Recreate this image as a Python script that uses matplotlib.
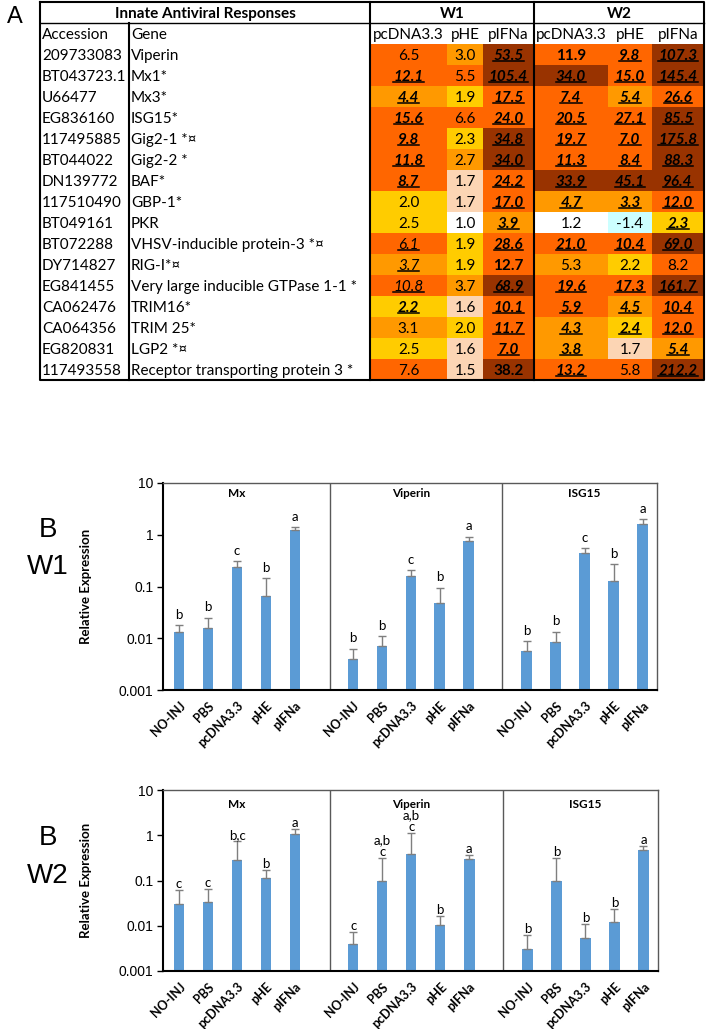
import numpy as np
import matplotlib
matplotlib.use("Agg")
import matplotlib.pyplot as plt
from matplotlib.colors import ListedColormap, BoundaryNorm
from matplotlib.lines import Line2D

# ---------------- Table data (panel A) ----------------
accession = ["209733083", "BT043723.1", "U66477", "EG836160", "117495885", "BT044022",
             "DN139772", "117510490", "BT049161", "BT072288", "DY714827", "EG841455",
             "CA062476", "CA064356", "EG820831", "117493558"]
genes = ["Viperin", "Mx1*", "Mx3*", "ISG15*", "Gig2-1 *\u00a4", "Gig2-2 *", "BAF*", "GBP-1*",
         "PKR", "VHSV-inducible protein-3 *\u00a4", "RIG-I*\u00a4",
         "Very large inducible GTPase 1-1 *", "TRIM16*", "TRIM 25*", "LGP2 *\u00a4",
         "Receptor transporting protein 3 *"]
col_headers = ["pcDNA3.3", "pHE", "pIFNa", "pcDNA3.3", "pHE", "pIFNa"]
group_headers = ["W1", "W2"]

w1_pcdna = [6.5, 12.1, 4.4, 15.6, 9.8, 11.8, 8.7, 2.0, 2.5, 6.1, 3.7, 10.8, 2.2, 3.1, 2.5, 7.6]
w1_phe = [3.0, 5.5, 1.9, 6.6, 2.3, 2.7, 1.7, 1.7, 1.0, 1.9, 1.9, 3.7, 1.6, 2.0, 1.6, 1.5]
w1_pifna = [53.5, 105.4, 17.5, 24.0, 34.8, 34.0, 24.2, 17.0, 3.9, 28.6, 12.7, 68.9, 10.1, 11.7, 7.0, 38.2]
w2_pcdna = [11.9, 34.0, 7.4, 20.5, 19.7, 11.3, 33.9, 4.7, 1.2, 21.0, 5.3, 19.6, 5.9, 4.3, 3.8, 13.2]
w2_phe = [9.8, 15.0, 5.4, 27.1, 7.0, 8.4, 45.1, 3.3, -1.4, 10.4, 2.2, 17.3, 4.5, 2.4, 1.7, 5.8]
w2_pifna = [107.3, 145.4, 26.6, 85.5, 175.8, 88.3, 96.4, 12.0, 2.3, 69.0, 8.2, 161.7, 10.4, 12.0, 5.4, 212.2]

# text style per cell: n normal, b bold, iu italic+underline, biu bold+italic+underline
w1_pcdna_style = ['n', 'biu', 'biu', 'biu', 'biu', 'biu', 'biu', 'n', 'n', 'iu', 'iu', 'iu', 'biu', 'n', 'n', 'n']
w1_phe_style = ['n'] * 16
w1_pifna_style = ['biu'] * 10 + ['b', 'biu', 'biu', 'biu', 'biu', 'b']
w2_pcdna_style = ['b', 'biu', 'biu', 'biu', 'biu', 'biu', 'biu', 'biu', 'n', 'biu', 'n', 'biu', 'biu', 'biu', 'biu', 'biu']
w2_phe_style = ['biu', 'biu', 'biu', 'biu', 'biu', 'biu', 'biu', 'biu', 'n', 'biu', 'n', 'biu', 'biu', 'biu', 'n', 'n']
w2_pifna_style = ['biu'] * 10 + ['n'] + ['biu'] * 5

heat_bounds = [-100, 0, 1.4, 1.8, 2.6, 5.45, 30, 1000]
heat_colors = ['#CCFFFF', '#FFFFFF', '#FCD5B4', '#FFCC00', '#FF9900', '#FF6600', '#993300']

# ---------------- Bar data (panel B) ----------------
treatments = ["NO-INJ", "PBS", "pcDNA3.3", "pHE", "pIFNa"]
bar_genes = ["Mx", "Viperin", "ISG15"]

w1_means = {"Mx": [0.013, 0.016, 0.24, 0.065, 1.25],
            "Viperin": [0.0039, 0.0072, 0.16, 0.047, 0.75],
            "ISG15": [0.0057, 0.0086, 0.45, 0.13, 1.6]}
w1_errs = {"Mx": [0.005, 0.009, 0.07, 0.08, 0.15],
           "Viperin": [0.0024, 0.0038, 0.05, 0.048, 0.17],
           "ISG15": [0.0032, 0.0049, 0.10, 0.14, 0.40]}
w1_letters = {"Mx": ["b", "b", "c", "b", "a"],
              "Viperin": ["b", "b", "c", "b", "a"],
              "ISG15": ["b", "b", "c", "b", "a"]}

w2_means = {"Mx": [0.030, 0.033, 0.29, 0.116, 1.06],
            "Viperin": [0.0039, 0.10, 0.38, 0.0103, 0.295],
            "ISG15": [0.0031, 0.10, 0.0053, 0.0124, 0.47]}
w2_errs = {"Mx": [0.031, 0.032, 0.46, 0.059, 0.30],
           "Viperin": [0.0032, 0.216, 0.72, 0.0062, 0.065],
           "ISG15": [0.0031, 0.207, 0.0055, 0.0111, 0.10]}
w2_letters = {"Mx": ["c", "c", "b,c", "b", "a"],
              "Viperin": ["c", "a,b\nc", "a,b\nc", "b", "a"],
              "ISG15": ["b", "b", "b", "b", "a"]}

ytick_vals = [0.001, 0.01, 0.1, 1, 10]
ytick_labels = ["0.001", "0.01", "0.1", "1", "10"]

# ---------------- Figure ----------------
W, H = 706, 1029
fig = plt.figure(figsize=(W / 100, H / 100), dpi=100)
TF = ['Lato', 'DejaVu Sans']
AF = ['Liberation Sans', 'DejaVu Sans']

tab = fig.add_axes([0, 0, 1, 1])
tab.set_xlim(0, W)
tab.set_ylim(H, 0)
tab.axis('off')

# table layout (pixels)
t_left, t_right, t_top, t_bot = 40, 704, 2, 380
hdr_split, data_top, row_h = 23, 44, 21
acc_x, gene_x, gene_end = 40, 129, 370
col_edges = np.array([370, 447, 483, 534, 608, 652, 704])
row_edges = data_top + row_h * np.arange(len(accession) + 1)

heat = np.array([w1_pcdna, w1_phe, w1_pifna, w2_pcdna, w2_phe, w2_pifna]).T
styles = np.array([w1_pcdna_style, w1_phe_style, w1_pifna_style,
                   w2_pcdna_style, w2_phe_style, w2_pifna_style]).T
cmap = ListedColormap(heat_colors)
norm = BoundaryNorm(heat_bounds, cmap.N)
tab.pcolormesh(col_edges, row_edges, heat, cmap=cmap, norm=norm, zorder=1)

fs_t = 11
row_c = (row_edges[:-1] + row_edges[1:]) / 2
col_c = (col_edges[:-1] + col_edges[1:]) / 2

underline_texts = []
for i in range(heat.shape[0]):
    tab.text(acc_x + 2, row_c[i], accession[i], ha='left', va='center_baseline',
             fontsize=fs_t, family=TF)
    tab.text(gene_x + 2, row_c[i], genes[i], ha='left', va='center_baseline',
             fontsize=fs_t, family=TF)
    for j in range(heat.shape[1]):
        st = styles[i, j]
        t = tab.text(col_c[j], row_c[i], f"{heat[i, j]:.1f}", ha='center', va='center_baseline',
                     fontsize=fs_t, family=TF,
                     fontweight='bold' if 'b' in st else 'normal',
                     fontstyle='italic' if 'i' in st else 'normal', zorder=3)
        if 'u' in st:
            underline_texts.append(t)

# headers
hdr1_y = (t_top + hdr_split) / 2
hdr2_y = (hdr_split + data_top) / 2
tab.text((t_left + gene_end) / 2, hdr1_y, "Innate Antiviral Responses", ha='center',
         va='center_baseline', fontsize=fs_t, fontweight='bold', family=TF)
tab.text((col_edges[0] + col_edges[3]) / 2, hdr1_y, group_headers[0], ha='center',
         va='center_baseline', fontsize=fs_t, fontweight='bold', family=TF)
tab.text((col_edges[3] + col_edges[6]) / 2, hdr1_y, group_headers[1], ha='center',
         va='center_baseline', fontsize=fs_t, fontweight='bold', family=TF)
tab.text(acc_x + 2, hdr2_y, "Accession", ha='left', va='center_baseline', fontsize=fs_t, family=TF)
tab.text(gene_x + 2, hdr2_y, "Gene", ha='left', va='center_baseline', fontsize=fs_t, family=TF)
for j, h in enumerate(col_headers):
    tab.text(col_c[j], hdr2_y, h, ha='center', va='center_baseline', fontsize=fs_t, family=TF)

# table lines
lk = dict(color='black', zorder=4, solid_capstyle='projecting')
tab.plot([t_left, t_right, t_right, t_left, t_left], [t_top, t_top, t_bot, t_bot, t_top], lw=1.5, **lk)
tab.plot([t_left, t_right], [hdr_split, hdr_split], lw=1.0, **lk)
tab.plot([gene_x, gene_x], [hdr_split, t_bot], lw=1.5, **lk)
tab.plot([gene_end, gene_end], [t_top, t_bot], lw=1.5, **lk)
tab.plot([col_edges[3], col_edges[3]], [t_top, t_bot], lw=1.5, **lk)

fig.text(15 / W, 1 - 17 / H, "A", fontsize=17, family=AF, ha='center', va='center')


# ---------------- Bar panels ----------------
def bar_panel(rect, means, errs, letters, let_off, title_y):
    ax = fig.add_axes(rect)
    ax.set_yscale('log')
    xs_all = []
    for g, gene in enumerate(bar_genes):
        x = np.arange(len(treatments)) + g * (len(treatments) + 1)
        xs_all.extend(x)
        m = np.array(means[gene])
        e = np.array(errs[gene])
        ax.bar(x, m, width=0.36, color='#5B9BD5', zorder=2)
        ax.errorbar(x, m, yerr=[np.zeros_like(e), e], fmt='none', ecolor='#7F7F7F',
                    elinewidth=1.0, capsize=3, capthick=1.0, zorder=3)
        for xi, mi, ei, li in zip(x, m, e, letters[gene]):
            ax.annotate(li, (xi, mi + ei), xytext=(0, let_off), textcoords='offset points',
                        ha='center', va='bottom', fontsize=9.5, family=TF, linespacing=1.0)
        ax.text(x[2], title_y, gene, transform=ax.get_xaxis_transform(), ha='center',
                va='center', fontsize=8.5, fontweight='bold', family=TF)
    ax.axvline(5.2, color='#595959', lw=1.0)
    ax.axvline(11.15, color='#595959', lw=1.0)
    ax.set_ylim(0.001, 10)
    ax.set_xlim(-0.55, 16.5)
    ax.set_yticks(ytick_vals)
    ax.set_yticklabels(ytick_labels, fontsize=10, family=AF)
    ax.yaxis.set_minor_locator(matplotlib.ticker.NullLocator())
    ax.set_xticks(xs_all)
    ax.set_xticklabels(treatments * len(bar_genes), rotation=45, ha='right',
                       rotation_mode='anchor', fontsize=9, fontweight='bold', family=TF)
    ax.tick_params(axis='x', length=0, pad=7)
    ax.tick_params(axis='y', length=4, width=1, direction='out', pad=3)
    for s in ['left', 'bottom']:
        ax.spines[s].set_color('black')
        ax.spines[s].set_linewidth(1.5)
    for s in ['top', 'right']:
        ax.spines[s].set_color('#595959')
        ax.spines[s].set_linewidth(1.0)
    ax.set_ylabel("Relative Expression", fontsize=9.5, fontweight='bold', family=TF)
    ax.yaxis.set_label_coords(-0.144, 0.5)
    return ax


bar_panel([163 / W, 1 - 690 / H, 494 / W, 207 / H], w1_means, w1_errs, w1_letters, 3, 0.95)
bar_panel([163 / W, 1 - 971 / H, 495 / W, 181 / H], w2_means, w2_errs, w2_letters, 0, 0.92)

fig.text(48 / W, 1 - 530 / H, "B", fontsize=20, family=AF, ha='center', va='center')
fig.text(48 / W, 1 - 567 / H, "W1", fontsize=20, family=AF, ha='center', va='center')
fig.text(48 / W, 1 - 838 / H, "B", fontsize=20, family=AF, ha='center', va='center')
fig.text(48 / W, 1 - 876 / H, "W2", fontsize=20, family=AF, ha='center', va='center')

# underlines for table values
fig.canvas.draw()
inv = fig.transFigure.inverted()
for t in underline_texts:
    bb = t.get_window_extent()
    y = bb.y0 + 2.0
    (x0, yf), = inv.transform([(bb.x0, y)])
    (x1, _), = inv.transform([(bb.x1, y)])
    fig.add_artist(Line2D([x0, x1], [yf, yf], color='black', lw=1.1, zorder=5))

fig.savefig("out.png", dpi=100)
